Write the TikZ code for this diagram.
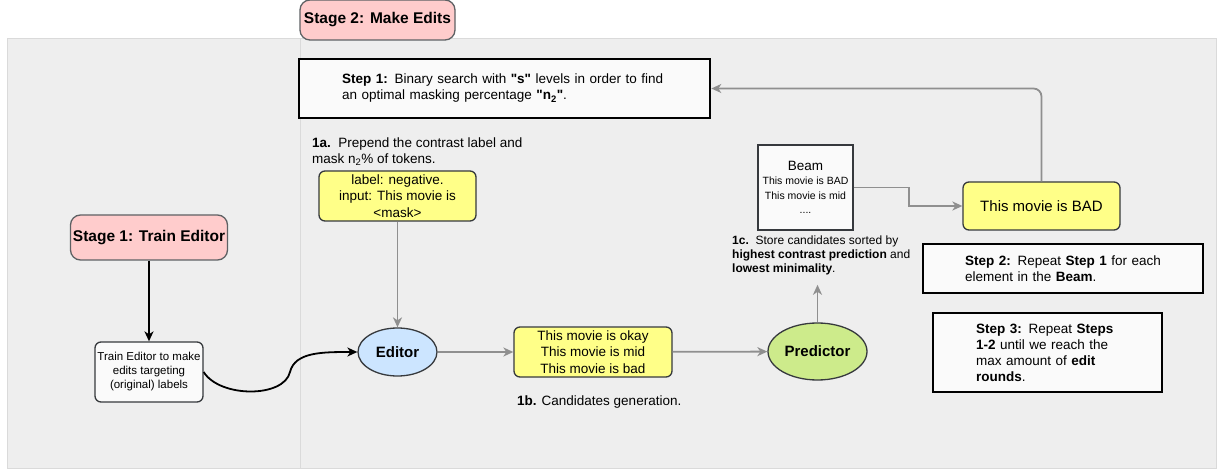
\documentclass[tikz,border=0pt]{standalone}
\usepackage{fontspec}
\setmainfont{Liberation Sans}
\usetikzlibrary{arrows.meta,positioning,shapes.geometric}

\definecolor{panelgray}{HTML}{EEEEEE}
\definecolor{panelline}{HTML}{DADADA}
\definecolor{stagepink}{HTML}{FFCCCC}
\definecolor{candyellow}{HTML}{FFFF88}
\definecolor{editblue}{HTML}{CCE5FF}
\definecolor{predgreen}{HTML}{CDEB8B}
\definecolor{edgedark}{HTML}{36393D}
\definecolor{flowgray}{HTML}{8F8F8F}

\newcommand{\fsz}[2]{\fontsize{#1}{#2}\selectfont}
\newcommand{\qtd}[1]{\textquotedbl#1\textquotedbl}

\tikzset{
  stagebox/.style={draw=edgedark!80,fill=stagepink,rounded corners=10pt,line width=1.3pt,
    font=\fsz{15.5}{18}\bfseries,inner sep=0pt},
  candbox/.style={draw=edgedark,fill=candyellow,rounded corners=6pt,line width=1.3pt,
    font=\fsz{13.5}{16.5},align=center,inner sep=0pt},
  stepbox/.style={draw=black,fill=white!98!black,line width=2.6pt,font=\fsz{13.5}{16},
    align=left,inner ysep=0pt},
  model/.style={ellipse,draw=edgedark,line width=1.3pt,font=\fsz{15}{18}\bfseries,inner sep=0pt},
  note/.style={font=\fsz{13.5}{16},align=left,inner sep=0pt},
  flow/.style={-{Stealth[length=10pt,width=9pt,inset=3pt]},draw=flowgray,line width=1.8pt},
  push/.style={-{Stealth[length=10pt,width=9pt,inset=3pt]},draw=black,line width=1.8pt},
}

\begin{document}
\begin{tikzpicture}[x=1pt,y=-1pt]
\fill[white] (0,0) rectangle (1218,470);
\useasboundingbox (0,0) rectangle (1218,470);
% panel and the split between the two stages
\draw[panelline,fill=panelgray,line width=1pt] (7,39) rectangle (1216,468);
\draw[panelline,line width=1pt] (300,39) -- (300,468);

% stage 1
\node[stagebox,minimum width=157pt,minimum height=45pt] (Stage1) at (149,237.5) {Stage 1: Train Editor};
\node[draw=edgedark,fill=white!98!black,rounded corners=6pt,line width=1.3pt,font=\fsz{11.5}{14},
  align=center,inner sep=0pt,minimum width=108pt,minimum height=60pt] (Train) at (149,372)
  {Train Editor to make\\edits targeting\\(original) labels};

% stage 2
\node[stagebox,minimum width=155pt,minimum height=40pt] (Stage2) at (377.5,20) {Stage 2: Make Edits};
\node[stepbox,text width=325pt,inner xsep=43pt,minimum height=59pt] (Step1) at (504.5,88.5)
  {\textbf{Step 1:} Binary search with \textbf{\qtd{s}} levels in order to find\\
   an optimal masking percentage \textbf{\qtd{n\textsubscript{2}}}.};
\node[note,anchor=west] (Note1a) at (312,152)
  {\textbf{1a.}\ \ Prepend the contrast label and\\mask n\textsubscript{2}\% of tokens.};
\node[candbox,minimum width=157pt,minimum height=50pt] (Mask) at (397.5,196)
  {label: negative.\\input: This movie is\\<mask>};
\node[model,fill=editblue,minimum width=79pt,minimum height=48pt] (Editor) at (397.5,352) {Editor};
\node[candbox,minimum width=158pt,minimum height=50pt] (Cand) at (593,352)
  {This movie is okay\\This movie is mid\\This movie is bad};
\node[note,anchor=west] (Note1b) at (517,402) {\textbf{1b.} Candidates generation.};
\node[model,fill=predgreen,minimum width=99pt,minimum height=57pt] (Pred) at (817.5,351.5) {Predictor};
\node[note,anchor=west,font=\fsz{12}{14}] (Note1c) at (732,255)
  {\textbf{1c.}\ \ Store candidates sorted by\\\textbf{highest contrast prediction} and\\\textbf{lowest minimality}.};
\node[draw=edgedark,fill=white!98!black,line width=1.3pt,align=center,inner sep=0pt,
  minimum width=95pt,minimum height=85pt,font=\fsz{10.5}{14.5}] (Beam) at (805.5,187.5)
  {{\fsz{13.5}{16}Beam}\\This movie is BAD\\This movie is mid\\....};
\node[candbox,font=\fsz{15}{18},minimum width=157pt,minimum height=48pt] (Bad) at (1041.5,206) {This movie is BAD};
\node[stepbox,text width=196pt,inner xsep=42pt,minimum height=49pt] (Step2) at (1063,268.5)
  {\textbf{Step 2:} Repeat \textbf{Step 1} for each\\element in the \textbf{Beam}.};
\node[stepbox,text width=143pt,inner xsep=43pt,minimum height=79pt] (Step3) at (1047.5,352.5)
  {\textbf{Step 3:} Repeat \textbf{Steps}\\\textbf{1-2} until we reach the\\max amount of \textbf{edit}\\\textbf{rounds}.};

% connectors
\draw[push] (Stage1) -- (Train);
\draw[push] (Train.east) .. controls (220,398) and (284,398) .. (290,372)
  .. controls (295,352) and (322,352) .. (Editor.west);
\draw[flow] (Mask) -- (Editor);
\draw[flow] (Editor) -- (Cand);
\draw[flow] (Cand) -- (Pred);
\draw[flow,shorten >=10pt] (Pred.north) -- (Pred.north |- Note1c.south);
\draw[flow] (Beam.east) -- ++(55,0) |- (Bad.west);
\draw[flow,rounded corners=8pt] (Bad.north) |- (Step1.east);
\end{tikzpicture}
\end{document}
